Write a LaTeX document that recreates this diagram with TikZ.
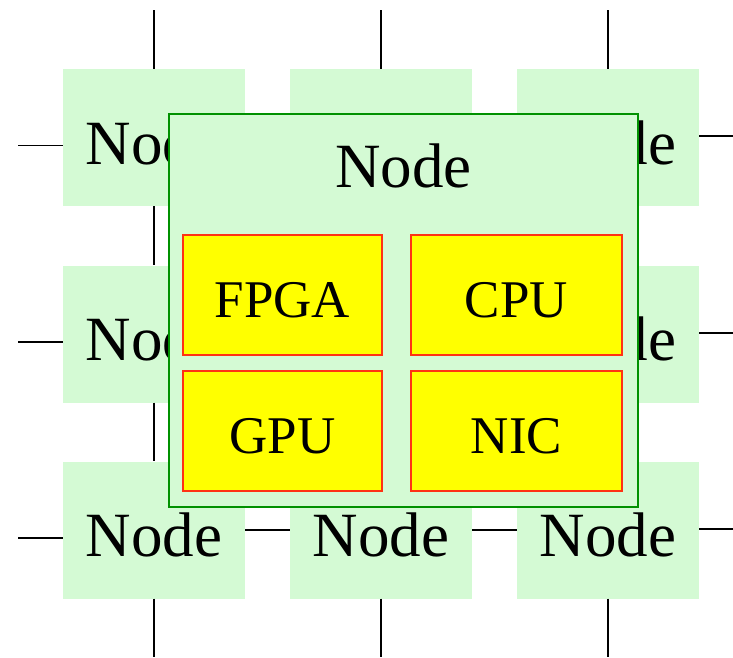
\documentclass[tikz,border=0pt]{standalone}
\usepackage{fontspec}
\setmainfont{Liberation Serif}
\definecolor{nodegreen}{RGB}{212,250,212}
\definecolor{boxgreen}{RGB}{0,145,0}
\definecolor{boxred}{RGB}{255,50,20}
\definecolor{chipyellow}{RGB}{255,255,0}
\tikzset{
  gridnode/.style={rectangle, fill=nodegreen, draw=none, minimum width=182pt, minimum height=137pt, inner sep=0pt,
    font=\fontsize{63}{63}\selectfont, text height=53pt, text depth=0pt},
  bignode/.style={rectangle, fill=nodegreen, draw=boxgreen, line width=1.6pt, inner sep=0pt},
  titletext/.style={anchor=base, inner sep=0pt, font=\fontsize{63}{63}\selectfont},
  chip/.style={rectangle, fill=chipyellow, draw=boxred, line width=1.6pt, minimum height=120pt, inner sep=0pt,
    font=\fontsize{53}{53}\selectfont, text height=44pt, text depth=0pt},
  wire/.style={draw=black, line width=1.8pt}
}
\begin{document}
\begin{tikzpicture}[x=1pt,y=-1pt]
\useasboundingbox (0,0) rectangle (733,657);
% free-end coordinates
\coordinate (t1) at (154,10);
\coordinate (t2) at (381,10);
\coordinate (t3) at (608,10);
\coordinate (b1) at (154,657);
\coordinate (b2) at (381,657);
\coordinate (b3) at (608,657);
\coordinate (l1) at (18,145.5);
\coordinate (l2) at (18,342);
\coordinate (l3) at (18,538);
\coordinate (r1) at (733,136);
\coordinate (r2) at (733,333);
\coordinate (r3) at (733,529);
% grid nodes
\node[gridnode] (n11) at (154,137.5) {Node};
\node[gridnode] (n12) at (381,137.5) {Node};
\node[gridnode] (n13) at (608,137.5) {Node};
\node[gridnode] (n21) at (154,334) {Node};
\node[gridnode] (n22) at (381,334) {Node};
\node[gridnode] (n23) at (608,334) {Node};
\node[gridnode] (n31) at (154,530) {Node};
\node[gridnode] (n32) at (381,530) {Node};
\node[gridnode] (n33) at (608,530) {Node};
% connectors
\begin{scope}[on background layer/.style={}]
\draw[wire] (t1) -- (n11.north);
\draw[wire] (t2) -- (n12.north);
\draw[wire] (t3) -- (n13.north);
\draw[wire] (n11.south) -- (n21.north);
\draw[wire] (n12.south) -- (n22.north);
\draw[wire] (n13.south) -- (n23.north);
\draw[wire] (n21.south) -- (n31.north);
\draw[wire] (n22.south) -- (n32.north);
\draw[wire] (n23.south) -- (n33.north);
\draw[wire] (n31.south) -- (b1);
\draw[wire] (n32.south) -- (b2);
\draw[wire] (n33.south) -- (b3);
\draw[wire] (l1) -- (n11.west |- l1);
\draw[wire] (l2) -- (n21.west |- l2);
\draw[wire] (l3) -- (n31.west |- l3);
\draw[wire] (n11.east) -- (n12.west);
\draw[wire] (n12.east) -- (n13.west);
\draw[wire] (n21.east) -- (n22.west);
\draw[wire] (n22.east) -- (n23.west);
\draw[wire] (n31.east) -- (n32.west);
\draw[wire] (n32.east) -- (n33.west);
\draw[wire] (n13.east |- r1) -- (r1);
\draw[wire] (n23.east |- r2) -- (r2);
\draw[wire] (n33.east |- r3) -- (r3);
\end{scope}
% big node
\node[bignode, minimum width=469pt, minimum height=393pt] (big) at (403.5,310.5) {};
\node[titletext] (title) at (403.5,187) {Node};
\node[chip, minimum width=199pt] (fpga) at (282.5,295) {FPGA};
\node[chip, minimum width=211pt] (cpu) at (516.5,295) {CPU};
\node[chip, minimum width=199pt] (gpu) at (282.5,431) {GPU};
\node[chip, minimum width=211pt] (nic) at (516.5,431) {NIC};
\end{tikzpicture}
\end{document}
